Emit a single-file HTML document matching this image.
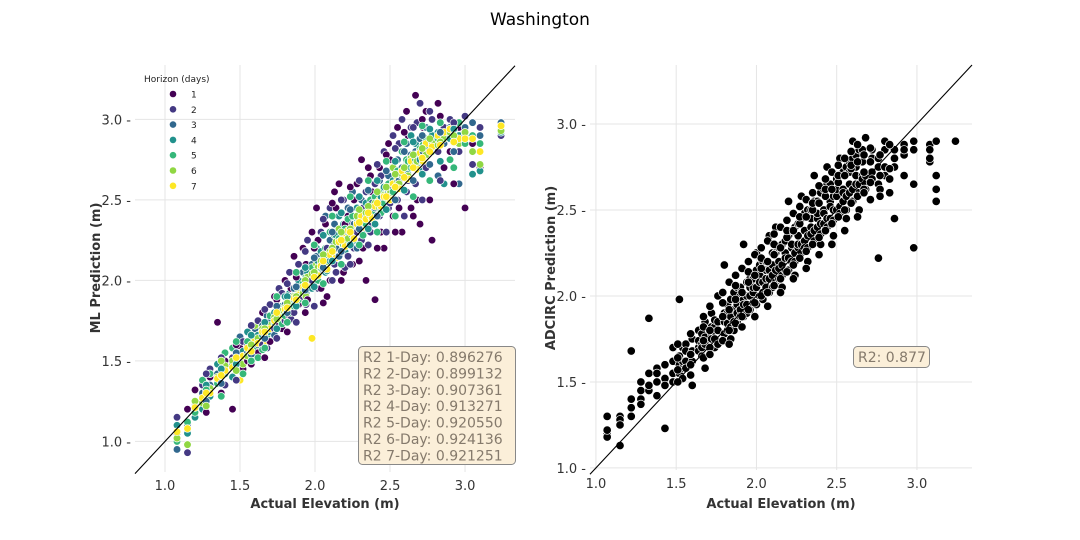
<!DOCTYPE html>
<html><head><meta charset="utf-8"><style>
body{margin:0;background:#fff;}
svg{display:block;font-family:"DejaVu Sans","Liberation Sans",sans-serif;}
</style></head><body>
<svg id="chart" width="1080" height="540" viewBox="0 0 1080 540" xmlns="http://www.w3.org/2000/svg">
<text x="540" y="25" text-anchor="middle" font-size="17" fill="#000">Washington</text>
<g id="left"></g>
<g id="right"></g>
</svg>
<script>
const xTicks=[1.0,1.5,2.0,2.5,3.0];
const yTicks=[1.0,1.5,2.0,2.5,3.0];
const horizonLabels=["1","2","3","4","5","6","7"];
const horizonColors=["#440154","#443983","#31688e","#21918c","#35b779","#90d743","#fde725"];
const r2Lines=["R2 1-Day: 0.896276","R2 2-Day: 0.899132","R2 3-Day: 0.907361","R2 4-Day: 0.913271","R2 5-Day: 0.920550","R2 6-Day: 0.924136","R2 7-Day: 0.921251"];
const adcircR2="R2: 0.877";
// each row: actual, then ML prediction for horizons 1..7
const mlRows=[
[1.08,1.05,1.15,0.95,1.10,1.00,1.02,1.06],[1.15,1.20,0.93,1.10,1.05,1.12,0.98,1.08],
[1.20,1.32,1.20,1.22,1.15,1.18,1.25,1.21],[1.25,1.28,1.35,1.30,1.20,1.38,1.24,1.27],
[1.30,1.40,1.45,1.35,1.28,1.42,1.33,1.30],[1.35,1.74,1.38,1.42,1.48,1.36,1.40,1.39],
[1.40,1.50,1.35,1.45,1.42,1.55,1.47,1.44],[1.45,1.20,1.52,1.48,1.40,1.58,1.50,1.46],
[1.50,1.58,1.45,1.65,1.52,1.48,1.55,1.38],[1.52,1.45,1.62,1.50,1.56,1.42,1.48,1.53],
[1.55,1.50,1.60,1.55,1.68,1.62,1.53,1.58],[1.60,1.65,1.55,1.70,1.62,1.58,1.72,1.63],
[1.62,1.55,1.75,1.60,1.66,1.52,1.64,1.61],[1.65,1.80,1.60,1.72,1.66,1.57,1.70,1.68],
[1.68,1.60,1.58,1.78,1.70,1.66,1.74,1.62],[1.70,1.62,1.85,1.75,1.68,1.78,1.72,1.70],
[1.73,1.90,1.70,1.66,1.80,1.74,1.77,1.75],[1.76,1.72,1.95,1.82,1.78,1.70,1.80,1.79],
[1.78,1.70,1.92,1.76,1.84,1.73,1.81,1.77],[1.80,2.00,1.75,1.85,1.90,1.78,1.83,1.82],
[1.83,1.78,2.05,1.88,1.92,1.85,1.86,1.84],[1.84,1.95,1.76,1.90,1.82,1.80,1.87,1.85],
[1.86,2.15,1.80,1.95,1.88,1.84,1.90,1.89],[1.89,1.85,2.10,1.92,2.00,1.88,1.94,1.91],
[1.92,2.20,1.90,2.05,1.95,1.98,1.92,1.96],[1.94,2.10,1.85,1.98,1.92,2.02,1.90,1.95],
[1.95,1.88,2.25,2.00,2.05,1.96,2.02,1.99],[1.98,2.30,2.00,2.10,1.95,2.08,2.04,1.64],
[2.01,2.45,2.05,2.15,2.20,2.02,2.10,2.06],[2.02,2.25,1.95,2.05,2.12,2.00,2.08,2.03],
[2.04,1.95,2.30,2.10,2.18,2.08,2.12,2.09],[2.07,2.35,2.15,2.40,2.05,2.20,2.14,2.12],
[2.08,1.90,2.20,2.12,2.06,2.16,2.10,2.07],[2.10,2.00,2.45,2.25,2.12,2.30,2.18,2.16],
[2.13,2.55,2.10,2.35,2.22,2.28,2.20,2.19],[2.14,2.45,2.05,2.20,2.28,2.15,2.24,2.14],
[2.16,2.60,2.25,2.15,2.40,2.26,2.32,2.24],[2.19,2.05,2.50,2.30,2.35,2.22,2.28,2.27],
[2.20,2.35,2.08,2.25,2.18,2.32,2.22,2.21],[2.22,2.40,2.15,2.45,2.30,2.38,2.26,2.31],
[2.25,2.10,2.35,2.55,2.28,2.40,2.33,2.30],[2.26,2.50,2.20,2.35,2.25,2.30,2.28,2.26],
[2.28,2.60,2.30,2.20,2.45,2.36,2.40,2.35],[2.31,2.75,2.25,2.50,2.38,2.44,2.32,2.40],
[2.32,2.20,2.45,2.30,2.36,2.28,2.34,2.33],[2.34,2.00,2.55,2.40,2.48,2.35,2.42,2.38],
[2.37,2.65,2.30,2.55,2.45,2.50,2.40,2.44],[2.38,2.55,2.35,2.48,2.40,2.42,2.38,2.39],
[2.40,1.88,2.60,2.45,2.35,2.52,2.48,2.46],[2.43,2.70,2.40,2.62,2.50,2.55,2.45,2.50],
[2.44,2.30,2.65,2.45,2.52,2.42,2.48,2.46],[2.46,2.20,2.80,2.50,2.58,2.48,2.53,2.52],
[2.49,2.85,2.45,2.65,2.55,2.60,2.50,2.57],[2.50,2.75,2.48,2.56,2.52,2.58,2.54,2.50],
[2.52,2.40,2.90,2.58,2.62,2.55,2.70,2.60],[2.55,2.95,2.50,2.75,2.60,2.68,2.62,2.64],
[2.56,2.45,2.85,2.62,2.58,2.66,2.60,2.57],[2.58,2.30,3.00,2.70,2.65,2.80,2.66,2.68],
[2.61,3.05,2.55,2.85,2.72,2.75,2.70,2.71],[2.62,2.90,2.62,2.70,2.66,2.74,2.65,2.63],
[2.64,2.45,2.95,2.78,2.90,2.70,2.76,2.74],[2.67,3.15,2.60,2.80,2.85,2.75,2.72,2.78],
[2.68,2.50,2.98,2.72,2.78,2.70,2.74,2.69],[2.70,2.35,3.10,2.88,2.75,2.82,2.80,2.79],
[2.72,2.95,2.75,2.80,2.68,2.84,2.76,2.74],[2.74,3.05,2.70,2.95,2.82,2.88,2.78,2.85],
[2.78,2.25,3.00,2.85,2.90,2.80,2.86,2.83],[2.82,3.10,2.80,2.65,2.92,2.88,2.84,2.90],
[2.86,2.70,2.95,2.85,2.60,2.90,2.88,2.92],[2.90,2.80,3.00,2.95,2.88,2.75,2.92,2.94],
[2.96,2.95,2.80,2.60,2.90,2.98,2.85,2.88],[3.00,2.45,3.02,2.95,2.90,2.85,2.92,2.88],
[3.10,2.70,2.95,2.90,2.68,2.85,2.72,2.80],[3.24,2.95,2.90,2.98,2.92,2.95,2.93,2.96],
[1.275,1.18,1.42,1.25,1.35,1.32,1.22,1.30],[1.375,1.30,1.52,1.36,1.45,1.28,1.50,1.41],
[1.475,1.60,1.38,1.55,1.48,1.62,1.44,1.52],[1.575,1.48,1.72,1.54,1.66,1.50,1.60,1.56],
[1.665,1.52,1.82,1.64,1.74,1.58,1.70,1.68],[1.745,1.88,1.64,1.84,1.70,1.90,1.76,1.80],
[1.815,1.68,1.98,1.80,1.90,1.74,1.86,1.83],[1.875,2.02,1.74,1.96,1.84,2.05,1.90,1.88],
[1.935,1.80,2.18,1.94,2.08,1.86,2.00,1.97],[1.995,2.20,1.84,2.14,1.96,2.22,2.05,2.02],
[2.055,1.86,2.38,2.08,2.28,1.98,2.16,2.12],[2.115,2.48,2.00,2.30,2.12,2.40,2.20,2.18],
[2.175,2.00,2.50,2.18,2.42,2.10,2.30,2.25],[2.235,2.58,2.10,2.44,2.22,2.52,2.32,2.30],
[2.295,2.12,2.62,2.32,2.52,2.22,2.44,2.36],[2.355,2.70,2.22,2.56,2.32,2.62,2.46,2.42],
[2.415,2.20,2.72,2.40,2.62,2.30,2.55,2.48],[2.475,2.78,2.30,2.68,2.44,2.74,2.58,2.52],
[2.535,2.30,2.82,2.50,2.74,2.40,2.66,2.58],[2.595,2.92,2.40,2.80,2.56,2.86,2.70,2.64],
[2.655,2.40,2.95,2.62,2.86,2.52,2.78,2.70],[2.715,3.00,2.50,2.90,2.66,2.96,2.82,2.76],
[2.765,2.50,3.05,2.72,2.94,2.62,2.88,2.80],[2.835,3.02,2.62,2.92,2.74,2.98,2.86,2.84],
[2.925,2.60,2.98,2.80,2.94,2.70,2.90,2.86],[3.05,2.85,2.72,2.98,2.66,2.90,2.80,2.88]
];
// each row: actual, then several ADCIRC predictions at that elevation
const adcircRows=[
[1.07,1.20,1.30,1.18,1.22],[1.15,1.13,1.30,1.28,1.25],[1.22,1.35,1.68,1.40,1.30],
[1.28,1.40,1.50,1.37,1.45],[1.33,1.45,1.55,1.87,1.48],[1.38,1.50,1.42,1.58,1.55],
[1.43,1.52,1.60,1.48,1.23],[1.48,1.55,1.62,1.50,1.70],[1.52,1.60,1.65,1.55,1.98],
[1.54,1.58,1.70,1.52,1.62],[1.56,1.62,1.72,1.58,1.68],[1.60,1.68,1.75,1.62,1.48],
[1.64,1.70,1.80,1.68,1.74],[1.66,1.72,1.65,1.78,1.70],[1.68,1.72,1.85,1.76,1.58],
[1.72,1.78,1.90,1.75,1.82],[1.74,1.82,1.75,1.70,1.86],[1.76,1.80,2.00,1.85,1.72],
[1.80,1.85,2.18,1.78,1.90],[1.82,1.90,1.80,1.95,1.84],[1.84,1.88,1.98,1.82,1.75],
[1.86,1.92,2.02,1.85,1.80],[1.88,1.95,2.05,1.90,1.85],[1.90,2.05,1.92,1.88,2.00],
[1.92,1.98,2.30,1.95,1.88],[1.94,1.95,2.08,2.00,1.90],[1.96,2.00,2.10,2.05,1.92],
[1.98,2.10,2.02,1.96,2.05],[2.00,2.05,2.15,1.95,2.25],[2.02,2.12,2.00,2.08,2.18],
[2.04,2.08,2.20,2.02,1.98],[2.06,2.05,2.15,2.20,2.10],[2.08,2.10,2.35,2.15,2.02],
[2.10,2.18,2.12,2.05,2.25],[2.12,2.15,2.25,2.08,2.40],[2.14,2.20,2.28,2.10,2.16],
[2.16,2.18,2.30,2.12,2.05],[2.18,2.25,2.15,2.32,2.22],[2.20,2.22,2.35,2.15,2.55],
[2.22,2.28,2.38,2.20,2.30],[2.24,2.25,2.40,2.20,2.12],[2.26,2.35,2.28,2.42,2.30],
[2.28,2.30,2.45,2.25,2.58],[2.30,2.38,2.32,2.48,2.28],[2.32,2.35,2.50,2.28,2.20],
[2.34,2.40,2.50,2.36,2.45],[2.36,2.38,2.55,2.32,2.70],[2.38,2.45,2.40,2.55,2.48],
[2.40,2.42,2.60,2.36,2.30],[2.42,2.50,2.48,2.62,2.42],[2.44,2.45,2.65,2.40,2.75],
[2.46,2.55,2.52,2.45,2.65],[2.48,2.50,2.58,2.44,2.35],[2.50,2.58,2.62,2.50,2.68],
[2.52,2.52,2.70,2.48,2.80],[2.54,2.62,2.55,2.72,2.60],[2.56,2.58,2.75,2.50,2.45],
[2.58,2.65,2.72,2.60,2.78],[2.60,2.62,2.80,2.55,2.90],[2.62,2.70,2.75,2.65,2.82],
[2.64,2.65,2.85,2.60,2.50],[2.66,2.78,2.70,2.85,2.68],[2.68,2.70,2.92,2.65,2.62],
[2.72,2.72,2.80,2.68,2.85],[2.76,2.80,2.22,2.75,2.65],[2.80,2.85,2.70,2.75,2.90],
[2.86,2.80,2.45,2.85,2.75],[2.92,2.88,2.70,2.82,2.85],[2.98,2.28,2.65,2.90,2.85],
[3.08,2.78,2.88,2.80,2.85],[3.12,2.55,2.62,2.90,2.70],[3.24,2.90,2.90,2.90,2.90],
[1.51,1.50,1.64,1.57,1.72],[1.59,1.60,1.78,1.66,1.54],[1.67,1.64,1.88,1.74,1.82],
[1.71,1.70,1.94,1.80,1.66],[1.79,1.74,2.02,1.88,1.96],[1.83,1.80,2.08,1.92,1.72],
[1.87,1.84,2.12,1.98,2.06],[1.91,1.88,2.16,2.02,1.82],[1.95,1.92,2.20,2.08,2.14],
[1.99,1.96,2.24,2.12,1.88],[2.03,2.00,2.28,2.16,2.22],[2.07,2.02,2.32,2.20,1.94],
[2.11,2.06,2.36,2.24,2.30],[2.15,2.10,2.40,2.28,2.02],[2.19,2.14,2.44,2.34,2.38],
[2.23,2.18,2.48,2.38,2.10],[2.27,2.22,2.52,2.42,2.46],[2.31,2.26,2.56,2.46,2.16],
[2.35,2.30,2.60,2.50,2.54],[2.39,2.34,2.64,2.54,2.24],[2.43,2.38,2.68,2.58,2.62],
[2.47,2.42,2.72,2.62,2.30],[2.51,2.46,2.76,2.66,2.70],[2.55,2.50,2.80,2.70,2.38],
[2.59,2.54,2.84,2.74,2.76],[2.63,2.58,2.88,2.78,2.46],[2.67,2.62,2.60,2.82,2.72],
[2.71,2.66,2.56,2.86,2.78],[2.77,2.70,2.62,2.58,2.82],[2.83,2.74,2.68,2.88,2.60]
];
const NS="http://www.w3.org/2000/svg";
function mk(parent,tag,attrs,text){const e=document.createElementNS(NS,tag);for(const k in attrs)e.setAttribute(k,attrs[k]);if(text!==undefined)e.textContent=text;parent.appendChild(e);return e;}
function setupAxes(g,P){
  const sx=v=>P.x0+(v-P.xmin)/(P.xmax-P.xmin)*(P.x1-P.x0);
  const sy=v=>P.y1-(v-P.ymin)/(P.ymax-P.ymin)*(P.y1-P.y0);
  xTicks.forEach(t=>{
    const l=mk(g,"line",{x1:sx(t),x2:sx(t),y1:P.y0,y2:P.y1,stroke:"#e5e5e5","stroke-width":1});
    
    
    const tx=mk(g,"text",{x:sx(t),y:P.y1+18,"text-anchor":"middle","font-size":13,fill:"#333"},t.toFixed(1));
    
    
  });
  yTicks.forEach(t=>{
    const l=mk(g,"line",{x1:P.x0,x2:P.x1,y1:sy(t),y2:sy(t),stroke:"#e5e5e5","stroke-width":1});
    
    
    const tx=mk(g,"text",{x:P.x0-4,y:sy(t)+5,"text-anchor":"end","font-size":13,fill:"#333"},t.toFixed(1)+" -");
    
    
  });
  return {sx,sy};
}
// LEFT
const L={x0:135,x1:515,y0:65,y1:472,xmin:0.8,xmax:3.333,ymin:0.81,ymax:3.338};
const gl=document.getElementById('left');
const al=setupAxes(gl,L);
mlRows.forEach(r=>{
  for(let h=0;h<7;h++){
    const c=mk(gl,"circle",{cx:al.sx(r[0]),cy:al.sy(r[h+1]),r:3.8,fill:horizonColors[h],stroke:"#fff","stroke-width":0.7});
    
    
  }
});
let dl=mk(gl,"line",{x1:L.x0,y1:al.sy(L.xmin),x2:L.x1,y2:al.sy(L.xmax),stroke:"#000","stroke-width":1.1});


let t;
t=mk(gl,"text",{x:325,y:508,"text-anchor":"middle","font-size":13,"font-weight":"bold",fill:"#333"},"Actual Elevation (m)");


t=mk(gl,"text",{x:0,y:0,transform:"translate(100,268) rotate(-90)","text-anchor":"middle","font-size":13,"font-weight":"bold",fill:"#333"},"ML Prediction (m)");


const lg=mk(gl,"g",{});


t=mk(lg,"text",{x:144,y:82,"font-size":9,fill:"#222"},"Horizon (days)");


horizonLabels.forEach((lab,i)=>{
  const y=94+i*15.3;
  const c=mk(lg,"circle",{cx:173,cy:y,r:3.3,fill:horizonColors[i]});
  
  
  const tx=mk(lg,"text",{x:191,y:y+3.5,"font-size":9,fill:"#222"},lab);
  
  
});
const bl=mk(gl,"g",{});


mk(bl,"rect",{x:358.5,y:346.5,width:157,height:118,rx:4,fill:"#fbefd9",stroke:"#888","stroke-width":1});
r2Lines.forEach((s,i)=>{
  const tx=mk(bl,"text",{x:363,y:362+i*16.4,"font-size":14,fill:"#857a6c"},s);
  
  
});
// RIGHT
const R={x0:590,x1:972,y0:65,y1:470,xmin:0.963,xmax:3.343,ymin:0.988,ymax:3.343};
const gr=document.getElementById('right');
const ar=setupAxes(gr,R);
adcircRows.forEach(r=>{
  for(let k=1;k<r.length;k++){
    const c=mk(gr,"circle",{cx:ar.sx(r[0]),cy:ar.sy(r[k]),r:4.2,fill:"#000",stroke:"#fff","stroke-width":0.7});
    
    
  }
});
dl=mk(gr,"line",{x1:R.x0,y1:ar.sy(R.xmin),x2:R.x1,y2:ar.sy(R.xmax),stroke:"#000","stroke-width":1.1});


t=mk(gr,"text",{x:781,y:508,"text-anchor":"middle","font-size":13,"font-weight":"bold",fill:"#333"},"Actual Elevation (m)");


t=mk(gr,"text",{x:0,y:0,transform:"translate(555,268) rotate(-90)","text-anchor":"middle","font-size":13,"font-weight":"bold",fill:"#333"},"ADCIRC Prediction (m)");


const br=mk(gr,"g",{});


mk(br,"rect",{x:853.5,y:346.5,width:76,height:21,rx:4,fill:"#fbefd9",stroke:"#888","stroke-width":1});
t=mk(br,"text",{x:858,y:362,"font-size":14,fill:"#857a6c"},adcircR2);


</script>
</body></html>
